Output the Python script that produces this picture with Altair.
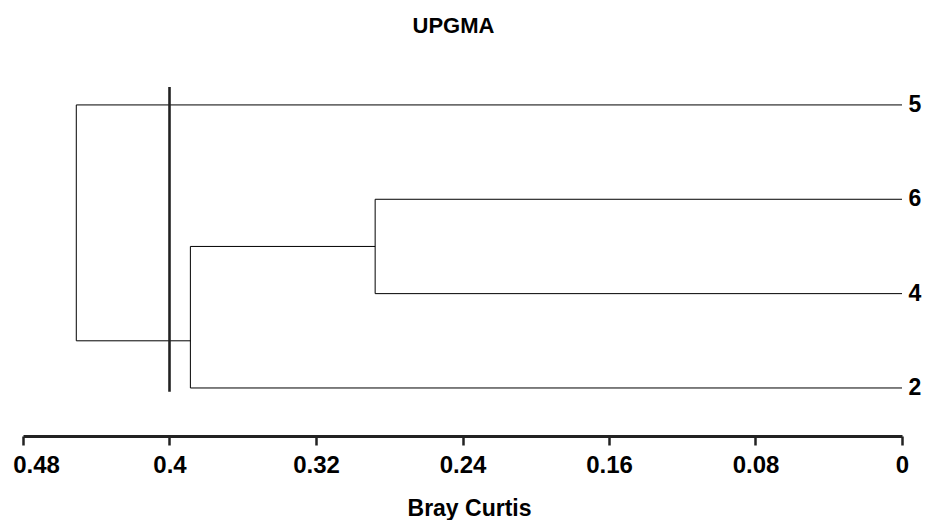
import altair as alt
import pandas as pd

# ---- data ----
leaf_labels = ["5", "6", "4", "2"]
leaf_pos = [3, 2, 1, 0]
# merge heights (Bray Curtis distance)
h_64 = 0.2877      # 6 + 4
h_642 = 0.3886     # (6,4) + 2
h_all = 0.4509     # 5 + rest
cutoff = 0.40
tick_values = [0.48, 0.40, 0.32, 0.24, 0.16, 0.08, 0.0]

pos = dict(zip(leaf_labels, leaf_pos))
join_64 = (pos["6"] + pos["4"]) / 2
join_642 = (pos["4"] + pos["2"]) / 2

segs = [
    # leaf branches
    (h_all, 0.0, pos["5"], pos["5"]),
    (h_64, 0.0, pos["6"], pos["6"]),
    (h_64, 0.0, pos["4"], pos["4"]),
    (h_642, 0.0, pos["2"], pos["2"]),
    # node 6+4
    (h_64, h_64, pos["4"], pos["6"]),
    (h_642, h_64, join_64, join_64),
    # node (6,4)+2
    (h_642, h_642, pos["2"], join_64),
    (h_all, h_642, join_642, join_642),
    # node 5 + rest
    (h_all, h_all, join_642, pos["5"]),
]
seg_df = pd.DataFrame(segs, columns=["x", "x2", "y", "y2"])

y_dom = [-0.509, 3.19]
cut_df = pd.DataFrame({"x": [cutoff], "y": [-0.04], "y2": [y_dom[1]]})
lab_df = pd.DataFrame({"label": leaf_labels, "y": leaf_pos, "x": [0.0] * 4})

FONT = "Liberation Sans"

xscale = alt.Scale(domain=[0.48, 0.0], nice=False, zero=False)
yscale = alt.Scale(domain=y_dom, nice=False, zero=False)

xaxis = alt.Axis(
    values=tick_values,
    format="~g",
    title="Bray Curtis",
    titleFont=FONT,
    titleFontSize=23,
    titleFontWeight="bold",
    titleColor="black",
    titleX=446,
    titleY=79,
    titleBaseline="alphabetic",
    titleAlign="center",
    labelFont=FONT,
    labelFontSize=24,
    labelFontWeight="bold",
    labelColor="black",
    labelPadding=8,
    labelOffset={"condition": {"test": "datum.value >= 0.47", "value": 13}, "value": 0},
    domainColor="#222222",
    domainWidth=3,
    tickColor="#222222",
    tickWidth=2.5,
    tickSize=9,
    grid=False,
    labelFlush=False,
    labelOverlap=False,
)

tree = alt.Chart(seg_df).mark_rule(color="black", strokeWidth=1).encode(
    x=alt.X("x:Q", scale=xscale, axis=xaxis),
    x2="x2:Q",
    y=alt.Y("y:Q", scale=yscale, axis=None),
    y2="y2:Q",
)

cut = alt.Chart(cut_df).mark_rule(color="#222222", strokeWidth=2.6).encode(
    x="x:Q",
    y="y:Q",
    y2="y2:Q",
)

labels = alt.Chart(lab_df).mark_text(
    font=FONT, fontSize=23, fontWeight="bold", color="black",
    align="center", baseline="middle", dx=13,
).encode(
    x="x:Q",
    y="y:Q",
    text="label:N",
)

chart = (
    alt.layer(tree, cut, labels)
    .properties(
        width=879,
        height=349,
        padding={"left": 15, "top": 79, "right": 20, "bottom": 84},
        autosize=alt.AutoSizeParams(type="none"),
        background="white",
        title=alt.TitleParams(
            "UPGMA",
            font=FONT,
            fontSize=22,
            fontWeight="bold",
            color="black",
            anchor="middle",
            frame="group",
            dx=-9,
            offset=48,
        ),
    )
    .configure_view(strokeWidth=0, stroke=None)
)

chart.save("out.html", embed_options={"renderer": "svg", "actions": False})
